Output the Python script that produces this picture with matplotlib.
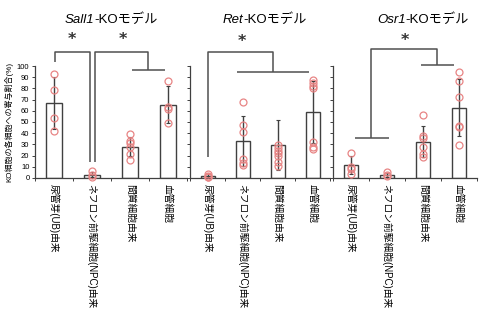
import matplotlib
matplotlib.use("Agg")
import matplotlib.pyplot as plt

plt.rcParams['font.family'] = ['Liberation Sans', 'Noto Sans CJK JP', 'DejaVu Sans']

categories = ["尿管芽(UB)由来", "ネフロン前駆細胞(NPC)由来", "間質細胞由来", "血管細胞"]
models = ["Sall1", "Ret", "Osr1"]
title_suffix = "-KOモデル"
ylabel = "KO細胞の各細胞への寄与割合(%)"

sall1_mean = [67, 3, 28, 65.5]
sall1_sd = [23.5, 2, 8.5, 16.5]
sall1_points = [[93, 79, 54, 42], [6, 3, 1], [39, 33, 31, 28, 21, 16], [87, 63, 62, 49]]

ret_mean = [2, 33, 29.5, 59]
ret_sd = [1.5, 22.5, 22, 28]
ret_points = [[4, 2, 1, 0.5], [68, 47, 41, 17, 13, 12],
              [29.5, 26.5, 24.5, 22, 19.6, 14.6, 11], [87.5, 85, 82.5, 80.5, 32, 28, 26]]

osr1_mean = [11.5, 2.7, 32.4, 62.8]
osr1_sd = [8, 1.5, 14, 25.7]
osr1_points = [[22.6, 10, 8, 3.5], [5, 2.5, 1.5], [56, 37.5, 36, 28, 21, 19],
               [94.3, 87, 72, 46.7, 45.5, 29.5]]

W, H = 480, 322
fig = plt.figure(figsize=(W / 100, H / 100), dpi=100)

# axes boxes in pixels: left, width
boxes = [(35, 152), (190, 140), (333, 144)]
bottom_px, top_px = 178, 66
title_x = [65, 223, 377]

EDGE = "#404040"
PT = "#e88585"
LINE = "#505050"


def bracket(ax, x1, x2, top, b1, b2):
    ax.plot([x1, x1, x2, x2], [b1, top, top, b2], color=LINE, lw=1.1,
            clip_on=False, solid_capstyle="butt", zorder=5)


def hline(ax, xa, xb, y):
    ax.plot([xa, xb], [y, y], color=LINE, lw=1.1, clip_on=False,
            solid_capstyle="butt", zorder=5)


def star(ax, x, y):
    ax.text(x, y, "*", ha="center", va="center", fontsize=11.5,
            fontweight="bold", color="#333333", family="DejaVu Sans")


data = [(sall1_mean, sall1_sd, sall1_points),
        (ret_mean, ret_sd, ret_points),
        (osr1_mean, osr1_sd, osr1_points)]

axes = []
for i, ((left, width), (means, sds, pts)) in enumerate(zip(boxes, data)):
    ax = fig.add_axes([left / W, (H - bottom_px) / H, width / W,
                       (bottom_px - top_px) / H])
    axes.append(ax)
    x = list(range(len(categories)))
    ax.bar(x, means, width=0.4, color="white", edgecolor=EDGE, lw=1.0, zorder=2)
    ax.errorbar(x, means, yerr=sds, fmt="none", ecolor=EDGE, elinewidth=1.0,
                capsize=1.5, capthick=0.8, zorder=3)
    for xi, p in zip(x, pts):
        ax.plot([xi] * len(p), p, "o", ms=5, mfc="none", mec=PT, mew=0.9,
                zorder=4, clip_on=False)
    ax.set_xlim(-0.5, 3.5)
    ax.set_ylim(0, 100)
    ax.set_yticks(range(0, 101, 10))
    ax.spines["top"].set_visible(False)
    ax.spines["right"].set_visible(False)
    for s in ("left", "bottom"):
        ax.spines[s].set_color(EDGE)
        ax.spines[s].set_linewidth(0.9)
    ax.set_xticks([-0.5, 0.5, 1.5, 2.5, 3.5])
    ax.set_xticklabels([])
    ax.set_xticks(x, minor=True)
    ax.set_xticklabels(categories, minor=True, rotation=270, fontsize=7,
                       va="top", ha="center")
    ax.tick_params(axis="x", which="major", length=2.5, width=0.7, color=EDGE)
    ax.tick_params(axis="x", which="minor", length=0, pad=4)
    ax.tick_params(axis="y", length=2.5, width=0.7, color=EDGE, labelsize=5.5,
                   pad=1.5)
    if i > 0:
        ax.set_yticklabels([])

# significance brackets
a1, a2, a3 = axes
bracket(a1, 0.03, 0.95, 112.5, 103.5, 14)
bracket(a1, 1.08, 2.47, 112.5, 14, 96)
hline(a1, 2.04, 2.92, 96)
star(a1, 0.47, 124)
star(a1, 1.82, 124)

bracket(a2, 0.0, 1.87, 112.5, 19, 94.6)
hline(a2, 0.84, 2.9, 94.6)
star(a2, 0.98, 122)

bracket(a3, 0.56, 2.39, 115, 35.7, 101)
hline(a3, 0.11, 1.05, 35.7)
hline(a3, 1.94, 2.86, 101)
star(a3, 1.5, 123)

fig.text(9 / W, (H - 122) / H, ylabel, rotation=90, ha="center", va="center",
         fontsize=5.8)

# titles: italic gene name followed by upright suffix
fig.canvas.draw()
for tx, name in zip(title_x, models):
    t1 = fig.text(tx / W, (H - 23) / H, name, style="italic", fontsize=9.5,
                  va="baseline", family="Liberation Sans")
    bb = t1.get_window_extent(renderer=fig.canvas.get_renderer())
    fig.text(bb.x1 / W, (H - 23) / H, title_suffix, fontsize=9.5, va="baseline")

fig.savefig("out.png", dpi=100)
